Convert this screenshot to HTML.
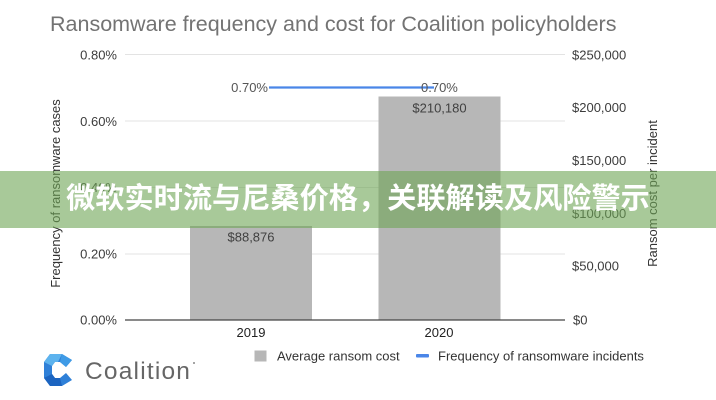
<!DOCTYPE html>
<html>
<head>
<meta charset="utf-8">
<style>
  html, body { margin: 0; padding: 0; background: #ffffff; }
  body { width: 716px; height: 400px; overflow: hidden; position: relative; }
  svg { position: absolute; left: 0; top: 0; }
  .banner {
    position: absolute; left: 0; top: 171px; width: 716px; height: 57px;
    background: rgba(110,165,85,0.6);
  }
  .banner span {
    position: absolute; left: 0; top: 0; width: 716px; height: 57px;
    line-height: 57px; text-align: center; color: #ffffff;
    font-family: "Liberation Sans", "Noto Sans CJK SC", sans-serif;
    font-weight: 700; font-size: 29.2px; white-space: nowrap;
  }
</style>
</head>
<body>
<svg width="716" height="400" viewBox="0 0 716 400" xmlns="http://www.w3.org/2000/svg" font-family="Liberation Sans, Arial, sans-serif">
  <!-- Title -->
  <text x="50" y="31" font-size="21.5" fill="#737373">Ransomware frequency and cost for Coalition policyholders</text>

  <!-- Gridlines -->
  <g stroke="#e3e3e3" stroke-width="1">
    <line x1="125" y1="54.5" x2="565" y2="54.5"/>
    <line x1="125" y1="121" x2="565" y2="121"/>
    <line x1="125" y1="187.5" x2="565" y2="187.5"/>
    <line x1="125" y1="254" x2="565" y2="254"/>
  </g>

  <!-- Bars -->
  <rect x="190" y="226" width="122" height="94" fill="#b7b7b7"/>
  <rect x="378.5" y="96.5" width="122" height="223.5" fill="#b7b7b7"/>

  <!-- Baseline -->
  <line x1="125" y1="320" x2="565" y2="320" stroke="#444444" stroke-width="1.2"/>

  <!-- Left tick labels -->
  <g font-size="13" fill="#3c3c3c" text-anchor="end">
    <text x="117" y="59.5">0.80%</text>
    <text x="117" y="126">0.60%</text>
    <text x="117" y="192">0.40%</text>
    <text x="117" y="258.5">0.20%</text>
    <text x="117" y="324.5">0.00%</text>
  </g>

  <!-- Right tick labels -->
  <g font-size="13" fill="#3c3c3c">
    <text x="572" y="59.5">$250,000</text>
    <text x="572" y="112">$200,000</text>
    <text x="572" y="165">$150,000</text>
    <text x="572" y="218">$100,000</text>
    <text x="572" y="270.5">$50,000</text>
    <text x="573" y="324.5">$0</text>
  </g>

  <!-- Axis titles -->
  <text transform="translate(60,193.5) rotate(-90)" text-anchor="middle" font-size="13" fill="#333333">Frequency of ransomware cases</text>
  <text transform="translate(657,193.5) rotate(-90)" text-anchor="middle" font-size="13" fill="#333333">Ransom cost per incident</text>

  <!-- Line series -->
  <line x1="269" y1="87.5" x2="434" y2="87.5" stroke="#4a86e8" stroke-width="2.2"/>
  <g font-size="13" fill="#555555">
    <text x="268" y="92" text-anchor="end">0.70%</text>
    <text x="421" y="92">0.70%</text>
  </g>

  <!-- Bar data labels -->
  <g font-size="13" fill="#404040" text-anchor="middle">
    <text x="251" y="241.5">$88,876</text>
    <text x="439.5" y="112.5">$210,180</text>
  </g>

  <!-- X labels -->
  <g font-size="13" fill="#222222" text-anchor="middle">
    <text x="251" y="337">2019</text>
    <text x="439" y="337">2020</text>
  </g>

  <!-- Legend -->
  <rect x="254.5" y="350.5" width="12" height="11" fill="#b7b7b7"/>
  <text x="277" y="360.5" font-size="13" fill="#333333">Average ransom cost</text>
  <rect x="416" y="354" width="13" height="3.5" rx="1" fill="#4a86e8"/>
  <text x="438" y="360.5" font-size="13" fill="#333333">Frequency of ransomware incidents</text>

  <!-- Coalition logo -->
  <g>
    <path d="M72 360 L62 354 L50 354 L44 362 L44 378 L50 386 L62 386 L72 380 L66 373 L60 378 L55 378 L52 374 L52 366 L55 362 L60 362 L66 367 Z" fill="#2f80d8"/>
    <path d="M50 354 L62 354 L58 362 L55 362 L52 366 L44 362 Z" fill="#5db3ee"/>
    <path d="M44 378 L52 374 L55 378 L60 378 L62 386 L50 386 Z" fill="#1c64c0"/>
    <path d="M62 354 L72 360 L66 367 L60 362 Z" fill="#3f9be6"/>
  </g>
  <text x="85" y="379" font-size="24.5" fill="#666666" letter-spacing="1.2">Coalition</text>
  <circle cx="194" cy="363" r="1" fill="#888888"/>
</svg>

<div class="banner"><span>微软实时流与尼桑价格，关联解读及风险警示</span></div>
</body>
</html>
